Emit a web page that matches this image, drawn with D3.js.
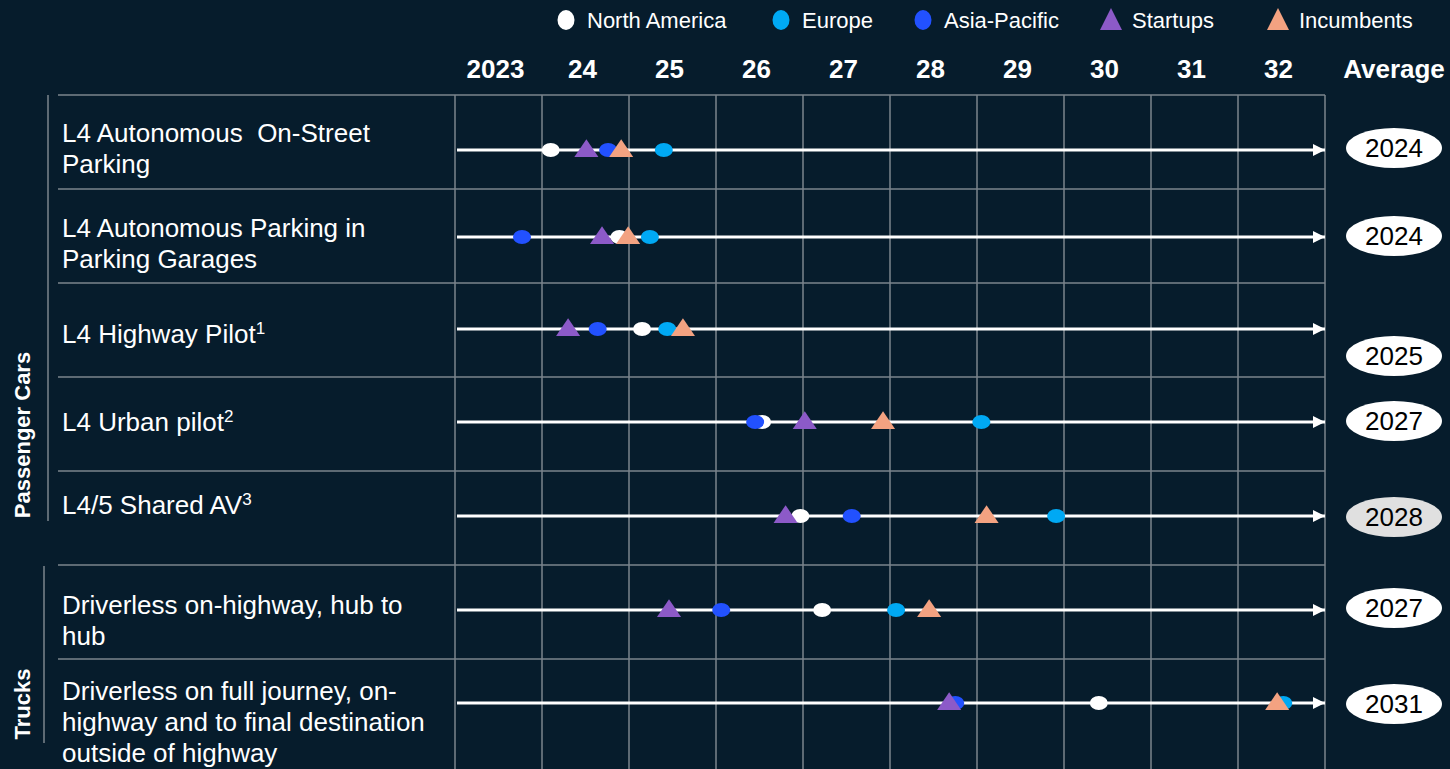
<!DOCTYPE html>
<html>
<head>
<meta charset="utf-8">
<script src="https://cdn.jsdelivr.net/npm/d3@7/dist/d3.min.js"></script>
<style>
  body { margin: 0; background: #061c2c; }
  svg { display: block; font-family: "Liberation Sans", Arial, sans-serif; }
  text { white-space: pre; }
</style>
</head>
<body>
<div id="chart"></div>
<script>
// rows of the timeline, label lines and an optional superscript
let rowLabels = [
    ["L4 Autonomous  On-Street", "Parking"],
    ["L4 Autonomous Parking in", "Parking Garages"],
    ["L4 Highway Pilot"],
    ["L4 Urban pilot"],
    ["L4/5 Shared AV"],
    ["Driverless on-highway, hub to", "hub"],
    ["Driverless on full journey, on-", "highway and to final destination", "outside of highway"]
];
let rowSup = ["", "", "1", "2", "3", "", ""];

// expected year per region / player type
let northAmerica = [2024.10, 2024.89, 2025.15, 2026.53, 2026.97, 2027.22, 2030.40];
let europe       = [2025.40, 2025.24, 2025.44, 2029.05, 2029.91, 2028.07, 2032.52];
let asiaPacific  = [2024.76, 2023.77, 2024.64, 2026.45, 2027.56, 2026.06, 2028.75];
let startups     = [2024.51, 2024.69, 2024.30, 2027.02, 2026.80, 2025.46, 2028.68];
let incumbents   = [2024.91, 2024.99, 2025.62, 2027.92, 2029.11, 2028.45, 2032.45];
let averages     = ["2024", "2024", "2025", "2027", "2028", "2027", "2031"];

let yearTicks  = [2023, 2024, 2025, 2026, 2027, 2028, 2029, 2030, 2031, 2032];
let yearLabels = ["2023", "24", "25", "26", "27", "28", "29", "30", "31", "32"];

let groups = [
    {name: "Passenger Cars", first: 0, last: 4},
    {name: "Trucks", first: 5, last: 6}
];

// layout tweaks (px)
let lineShift  = [8, 1, -1, -2, -2, -2, -3];
let labelTop   = [38, 39, 51, 45, 34, 40, 32];
let avgShift   = [-2, -1, 27, -1, 1, -2, 1];

let W = 1450, H = 769;
let bg = "#061c2c", gridCol = "#7b848d";
let colNA = "#ffffff", colEU = "#00a9f4", colAP = "#2251ff", colSU = "#8c5ac8", colIN = "#f3a281";

let svg = d3.select("#chart").append("svg")
    .attr("width", W)
    .attr("height", H);

svg.append("rect").attr("width", W).attr("height", H).attr("fill", bg);

let x = d3.scaleLinear().domain([2023, 2033]).range([455, 1325]);
let y = d3.scaleBand().domain(d3.range(rowLabels.length)).range([95, 95 + 94 * 7]);
let lineY = function (i) { return y(i) + y.bandwidth() / 2 + lineShift[i]; };

// ---- legend ----
let legend = [
    {name: "North America", shape: "circle", color: colNA, x: 566},
    {name: "Europe", shape: "circle", color: colEU, x: 781},
    {name: "Asia-Pacific", shape: "circle", color: colAP, x: 923},
    {name: "Startups", shape: "tri", color: colSU, x: 1111},
    {name: "Incumbents", shape: "tri", color: colIN, x: 1278}
];
let lg = svg.append("g");
legend.forEach(function (d) {
    if (d.shape === "circle") {
        lg.append("ellipse").attr("cx", d.x).attr("cy", 20).attr("rx", 8.5).attr("ry", 10).attr("fill", d.color);
    } else {
        lg.append("path").attr("d", "M" + d.x + ",8 L" + (d.x + 11) + ",30 L" + (d.x - 11) + ",30 Z").attr("fill", d.color);
    }
    lg.append("text")
        .attr("x", d.x + 21)
        .attr("y", 20)
        .attr("dy", "0.35em")
        .attr("fill", "#fff")
        .attr("font-size", 22)
        .text(d.name);
});

// ---- header ----
svg.append("g").selectAll("text")
    .data(yearTicks)
    .enter().append("text")
    .attr("x", function (d) { return x(d + 0.5) - 3; })
    .attr("y", 69)
    .attr("dy", "0.35em")
    .attr("text-anchor", "middle")
    .attr("fill", "#fff")
    .attr("font-size", 26)
    .attr("font-weight", "bold")
    .text(function (d, i) { return yearLabels[i]; });

svg.append("text")
    .attr("x", 1394).attr("y", 69).attr("dy", "0.35em")
    .attr("text-anchor", "middle")
    .attr("fill", "#fff").attr("font-size", 26).attr("font-weight", "bold")
    .text("Average");

// ---- grid ----
let grid = svg.append("g").attr("stroke", gridCol).attr("stroke-width", 1.5);
yearTicks.concat([2033]).forEach(function (t) {
    grid.append("line").attr("x1", x(t)).attr("x2", x(t)).attr("y1", 95).attr("y2", H);
});
d3.range(rowLabels.length).forEach(function (i) {
    grid.append("line").attr("x1", 58).attr("x2", x(2033)).attr("y1", y(i)).attr("y2", y(i));
});

// group brackets + rotated names
groups.forEach(function (g, gi) {
    let y0 = gi === 0 ? y(g.first) : y(g.first) + 1;
    let y1 = gi === 0 ? y(g.last) + 50 : y(g.last) + 84;
    let gx = gi === 0 ? 48 : 44;
    grid.append("line").attr("x1", gx).attr("x2", gx).attr("y1", y0).attr("y2", y1);
    let cy = gi === 0 ? 435 : 704;
    svg.append("text")
        .attr("transform", "translate(22," + cy + ") rotate(-90)")
        .attr("text-anchor", "middle")
        .attr("dy", "0.35em")
        .attr("fill", "#fff")
        .attr("font-size", 22)
        .attr("font-weight", "bold")
        .text(g.name);
});

// ---- row labels ----
let labels = svg.append("g");
rowLabels.forEach(function (lines, i) {
    let t = labels.append("text")
        .attr("fill", "#fff")
        .attr("font-size", 26);
    lines.forEach(function (ln, j) {
        t.append("tspan")
            .attr("x", 62)
            .attr("y", y(i) + labelTop[i] + j * 31)
            .attr("dy", "0.35em")
            .text(ln);
        if (j === lines.length - 1 && rowSup[i]) {
            t.append("tspan")
                .attr("font-size", 17)
                .attr("dy", "-0.55em")
                .text(rowSup[i]);
        }
    });
});

// ---- arrows ----
svg.append("defs").append("marker")
    .attr("id", "arrow")
    .attr("viewBox", "0 0 10 10")
    .attr("refX", 10).attr("refY", 5)
    .attr("markerWidth", 14).attr("markerHeight", 12)
    .attr("markerUnits", "userSpaceOnUse")
    .attr("orient", "auto")
    .append("path").attr("d", "M0,0 L10,5 L0,10 Z").attr("fill", "#fff");

svg.append("g").selectAll("line")
    .data(d3.range(rowLabels.length))
    .enter().append("line")
    .attr("x1", 457)
    .attr("x2", x(2033))
    .attr("y1", lineY)
    .attr("y2", lineY)
    .attr("stroke", "#fff")
    .attr("stroke-width", 3)
    .attr("marker-end", "url(#arrow)");

// ---- markers ----
let marks = svg.append("g");
let drawDots = function (vals, color) {
    marks.selectAll(null)
        .data(vals)
        .enter().append("ellipse")
        .attr("cx", function (d) { return x(d); })
        .attr("cy", function (d, i) { return lineY(i); })
        .attr("rx", 9)
        .attr("ry", 7)
        .attr("fill", color);
};
let tri = d3.symbol().type(d3.symbolTriangle).size(200);
let drawTris = function (vals, color) {
    marks.selectAll(null)
        .data(vals)
        .enter().append("path")
        .attr("d", tri)
        .attr("transform", function (d, i) {
            return "translate(" + x(d) + "," + (lineY(i) + 1) + ") scale(1.12,0.95)";
        })
        .attr("fill", color);
};
drawDots(northAmerica, colNA);
drawDots(europe, colEU);
drawDots(asiaPacific, colAP);
drawTris(startups, colSU);
drawTris(incumbents, colIN);

// ---- averages ----
let avg = svg.append("g");
averages.forEach(function (a, i) {
    let cy = lineY(i) + avgShift[i];
    avg.append("ellipse")
        .attr("cx", 1394).attr("cy", cy)
        .attr("rx", 48).attr("ry", 20)
        .attr("fill", i === 4 ? "#e0e0e0" : "#fff");
    avg.append("text")
        .attr("x", 1394).attr("y", cy).attr("dy", "0.36em")
        .attr("text-anchor", "middle")
        .attr("fill", "#000")
        .attr("font-size", 26)
        .text(a);
});
</script>
</body>
</html>
